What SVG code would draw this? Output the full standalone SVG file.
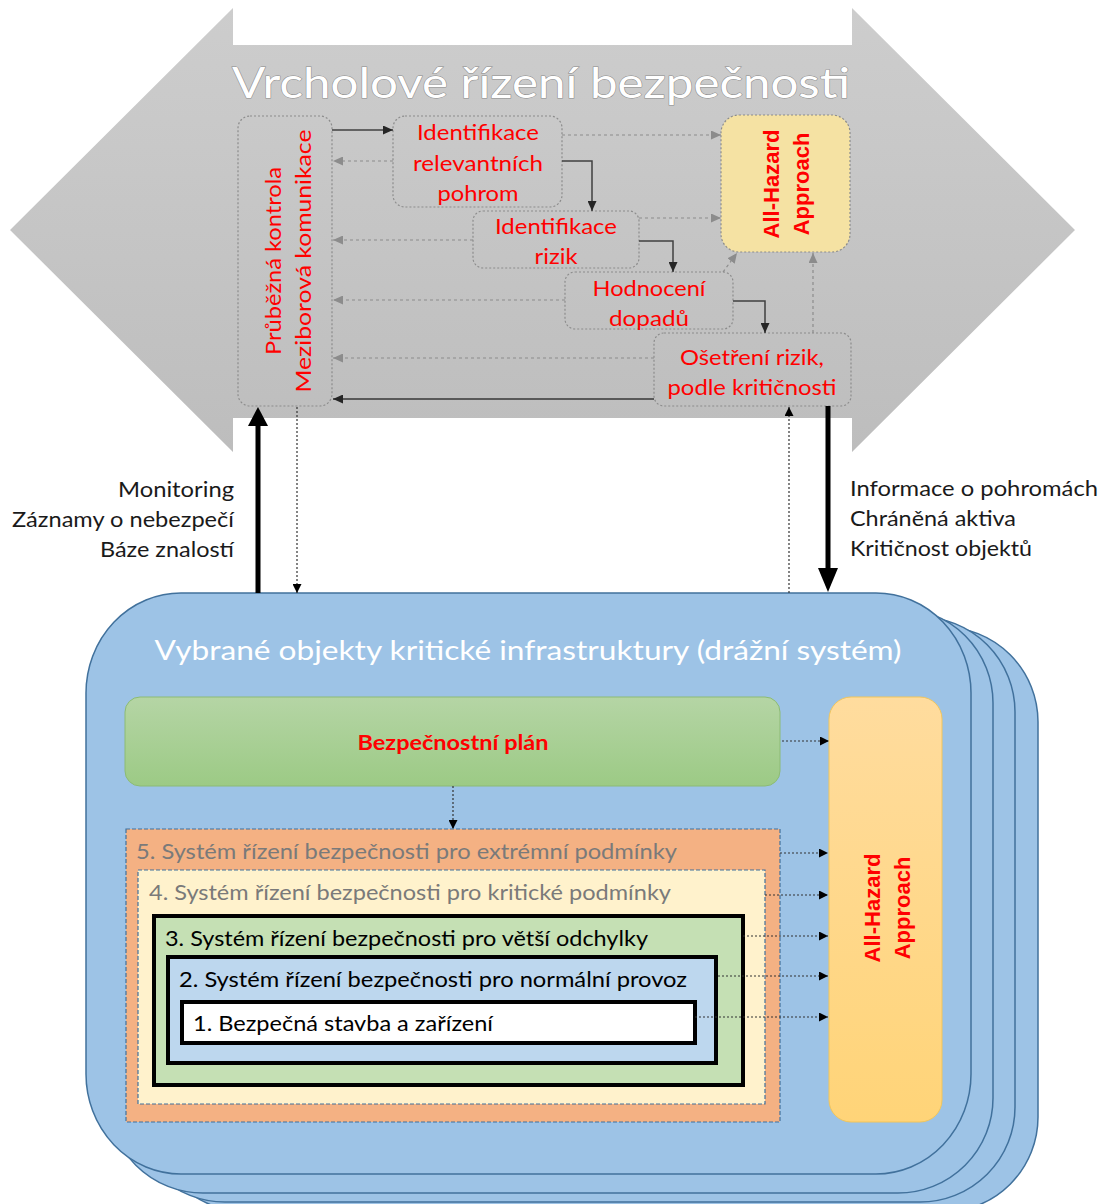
<svg xmlns="http://www.w3.org/2000/svg" width="1108" height="1204" viewBox="0 0 1108 1204">
<defs>
<style>
.cal{font-family:Lato,"Open Sans","Liberation Sans",sans-serif;}
.red{fill:#ff0000;font-size:22px;text-anchor:middle;dominant-baseline:central;}
.lbl{fill:#1a1a1a;font-size:21px;dominant-baseline:central;}
.ah{font-family:"Liberation Sans",Arial,sans-serif;font-weight:bold;font-size:22px;fill:#ff0000;text-anchor:middle;dominant-baseline:central;}
.tnode{fill:none;stroke:#8c8c8c;stroke-width:1.2;stroke-dasharray:2 2;}
.sol{fill:none;stroke:#404040;stroke-width:1.5;}
.gry{fill:none;stroke:#8c8c8c;stroke-width:1.2;stroke-dasharray:3 3;}
.dot{fill:none;stroke:#333;stroke-width:1.2;stroke-dasharray:2 2;}
.layer{fill:#9dc3e6;stroke:#41719c;stroke-width:1.5;}
.lvl{font-size:21px;dominant-baseline:central;}
</style>
<linearGradient id="gGrey" x1="0" y1="0" x2="0" y2="1"><stop offset="0" stop-color="#cdcdcd"/><stop offset="1" stop-color="#bdbdbd"/></linearGradient>
<linearGradient id="gGreen" x1="0" y1="0" x2="0" y2="1"><stop offset="0" stop-color="#b5d5a5"/><stop offset="1" stop-color="#9cca85"/></linearGradient>
<linearGradient id="gYel" x1="0" y1="0" x2="0" y2="1"><stop offset="0" stop-color="#ffdc9e"/><stop offset="1" stop-color="#ffd478"/></linearGradient>
<marker id="mS" viewBox="0 0 10 10" refX="10" refY="5" markerWidth="10" markerHeight="9" markerUnits="userSpaceOnUse" orient="auto" preserveAspectRatio="none"><path d="M0,0 L10,5 L0,10 z" fill="#262626"/></marker>
<marker id="mG" viewBox="0 0 10 10" refX="10" refY="5" markerWidth="10" markerHeight="9" markerUnits="userSpaceOnUse" orient="auto" preserveAspectRatio="none"><path d="M0,0 L10,5 L0,10 z" fill="#8c8c8c"/></marker>
<marker id="mB" viewBox="0 0 10 10" refX="10" refY="5" markerWidth="9" markerHeight="9" markerUnits="userSpaceOnUse" orient="auto" preserveAspectRatio="none"><path d="M0,0 L10,5 L0,10 z" fill="#000"/></marker>
</defs>

<rect width="1108" height="1204" fill="#fff"/>

<g id="top-arrow">
<polygon points="233,8 233,45 852,45 852,8 1075,230 852,452 852,418 233,418 233,452 10,230" fill="url(#gGrey)"/>
<text class="cal" x="541" y="82" font-size="42" text-anchor="middle" dominant-baseline="central" fill="#fff" stroke="#8a8a8a" stroke-width="1" paint-order="stroke" textLength="618" lengthAdjust="spacingAndGlyphs">Vrcholové řízení bezpečnosti</text>
</g>

<g id="node-kontrola">
<rect class="tnode" x="238" y="116" width="94" height="290" rx="12"/>
<text class="cal red" transform="translate(272,261) rotate(-90)" x="0" y="0" textLength="188" lengthAdjust="spacingAndGlyphs">Průběžná kontrola</text>
<text class="cal red" transform="translate(302,261) rotate(-90)" x="0" y="0" textLength="263" lengthAdjust="spacingAndGlyphs">Meziborová komunikace</text>
</g>

<g id="node-pohromy">
<rect class="tnode" x="393" y="116" width="169" height="91" rx="12"/>
<text class="cal red" x="478" y="131" textLength="122" lengthAdjust="spacingAndGlyphs">Identifikace</text>
<text class="cal red" x="478" y="162" textLength="130" lengthAdjust="spacingAndGlyphs">relevantních</text>
<text class="cal red" x="478" y="192" textLength="81" lengthAdjust="spacingAndGlyphs">pohrom</text>
</g>

<g id="node-rizika">
<rect class="tnode" x="473" y="211" width="166" height="57" rx="10"/>
<text class="cal red" x="556" y="225" textLength="122" lengthAdjust="spacingAndGlyphs">Identifikace</text>
<text class="cal red" x="556" y="255" textLength="43" lengthAdjust="spacingAndGlyphs">rizik</text>
</g>

<g id="node-hodnoceni">
<rect class="tnode" x="565" y="272" width="168" height="57" rx="10"/>
<text class="cal red" x="649" y="287" textLength="113" lengthAdjust="spacingAndGlyphs">Hodnocení</text>
<text class="cal red" x="649" y="317" textLength="80" lengthAdjust="spacingAndGlyphs">dopadů</text>
</g>

<g id="node-osetreni">
<rect class="tnode" x="654" y="333" width="197" height="73" rx="10"/>
<text class="cal red" x="752" y="356" textLength="144" lengthAdjust="spacingAndGlyphs">Ošetření rizik,</text>
<text class="cal red" x="752" y="386" textLength="169" lengthAdjust="spacingAndGlyphs">podle kritičnosti</text>
</g>

<g id="node-allhazard-top">
<rect x="721" y="115" width="129" height="137" rx="18" fill="#f5e2a3" stroke="#8c8c8c" stroke-width="1.2" stroke-dasharray="2 2"/>
<text class="ah" transform="translate(771,184) rotate(-90)">All-Hazard</text>
<text class="ah" transform="translate(801,184) rotate(-90)">Approach</text>
</g>

<g id="labels-left">
<text class="cal lbl" x="234" y="488" text-anchor="end" textLength="116" lengthAdjust="spacingAndGlyphs">Monitoring</text>
<text class="cal lbl" x="234" y="518" text-anchor="end" textLength="222" lengthAdjust="spacingAndGlyphs">Záznamy o nebezpečí</text>
<text class="cal lbl" x="234" y="548" text-anchor="end" textLength="134" lengthAdjust="spacingAndGlyphs">Báze znalostí</text>
</g>
<g id="labels-right">
<text class="cal lbl" x="850" y="487" textLength="248" lengthAdjust="spacingAndGlyphs">Informace o pohromách</text>
<text class="cal lbl" x="850" y="517" textLength="166" lengthAdjust="spacingAndGlyphs">Chráněná aktiva</text>
<text class="cal lbl" x="850" y="547" textLength="182" lengthAdjust="spacingAndGlyphs">Kritičnost objektů</text>
</g>

<g id="node-infrastruktura">
<rect class="layer" x="152" y="627" width="886" height="585" rx="95" ry="95"/>
<rect class="layer" x="130" y="617" width="885" height="585" rx="95" ry="95"/>
<rect class="layer" x="108" y="608" width="885" height="585" rx="95" ry="95"/>
<rect class="layer" x="86" y="593" width="885" height="581" rx="95" ry="100"/>
<text class="cal" x="528" y="650" font-size="26" fill="#fff" text-anchor="middle" dominant-baseline="central" textLength="747" lengthAdjust="spacingAndGlyphs">Vybrané objekty kritické infrastruktury (drážní systém)</text>
</g>

<g id="node-plan">
<rect x="125" y="697" width="655" height="89" rx="15" fill="url(#gGreen)" stroke="#8cbb74" stroke-width="1"/>
<text class="cal" x="453" y="741" font-size="21" font-weight="bold" fill="#ff0000" text-anchor="middle" dominant-baseline="central" textLength="191" lengthAdjust="spacingAndGlyphs">Bezpečnostní plán</text>
</g>

<g id="node-allhazard-bottom">
<rect x="829" y="697" width="113" height="425" rx="22" fill="url(#gYel)" stroke="#f2c55a" stroke-width="1"/>
<text class="ah" transform="translate(872,908) rotate(-90)">All-Hazard</text>
<text class="ah" transform="translate(902,908) rotate(-90)">Approach</text>
</g>

<g id="node-level5">
<rect x="126" y="829" width="654" height="293" fill="#f4b183" stroke="#41719c" stroke-width="1.2" stroke-dasharray="4 2"/>
<text class="cal lvl" x="136" y="850" fill="#7a7a7a" textLength="541" lengthAdjust="spacingAndGlyphs">5. Systém řízení bezpečnosti pro extrémní podmínky</text>
</g>
<g id="node-level4">
<rect x="138" y="870" width="627" height="234" fill="#fff2cc" stroke="#41719c" stroke-width="1.2" stroke-dasharray="4 2"/>
<text class="cal lvl" x="149" y="891" fill="#7a7a7a" textLength="522" lengthAdjust="spacingAndGlyphs">4. Systém řízení bezpečnosti pro kritické podmínky</text>
</g>
<g id="node-level3">
<rect x="154" y="916" width="589" height="169" fill="#c5e0b4" stroke="#000" stroke-width="4"/>
<text class="cal lvl" x="165" y="937" fill="#000" textLength="483" lengthAdjust="spacingAndGlyphs">3. Systém řízení bezpečnosti pro větší odchylky</text>
</g>
<g id="node-level2">
<rect x="168" y="957" width="548" height="106" fill="#bdd7ee" stroke="#000" stroke-width="4"/>
<text class="cal lvl" x="179" y="978" fill="#000" textLength="508" lengthAdjust="spacingAndGlyphs">2. Systém řízení bezpečnosti pro normální provoz</text>
</g>
<g id="node-level1">
<rect x="182" y="1002" width="513" height="41" fill="#fff" stroke="#000" stroke-width="4"/>
<text class="cal lvl" x="193" y="1022" fill="#000" textLength="300" lengthAdjust="spacingAndGlyphs">1. Bezpečná stavba a zařízení</text>
</g>

<g id="connectors">
<line class="sol" x1="332" y1="130" x2="393" y2="130" marker-end="url(#mS)"/>
<path class="sol" d="M562,161 H592 V211" marker-end="url(#mS)"/>
<path class="sol" d="M639,241 H673 V272" marker-end="url(#mS)"/>
<path class="sol" d="M733,301 H765 V333" marker-end="url(#mS)"/>
<line x1="654" y1="399" x2="333" y2="399" stroke="#595959" stroke-width="2" marker-end="url(#mS)"/>
<line class="gry" x1="393" y1="161" x2="333" y2="161" marker-end="url(#mG)"/>
<line class="gry" x1="473" y1="240" x2="333" y2="240" marker-end="url(#mG)"/>
<line class="gry" x1="565" y1="300" x2="333" y2="300" marker-end="url(#mG)"/>
<line class="gry" x1="654" y1="358" x2="333" y2="358" marker-end="url(#mG)"/>
<line class="gry" x1="562" y1="135" x2="721" y2="135" marker-end="url(#mG)"/>
<line class="gry" x1="639" y1="218" x2="721" y2="218" marker-end="url(#mG)"/>
<line class="gry" x1="723" y1="272" x2="737" y2="253" marker-end="url(#mG)"/>
<line class="gry" x1="813" y1="333" x2="813" y2="253" marker-end="url(#mG)"/>
<line x1="258" y1="593" x2="258" y2="424" stroke="#000" stroke-width="5"/>
<polygon points="248,426 268,426 258,407" fill="#000"/>
<line x1="828" y1="406" x2="828" y2="570" stroke="#000" stroke-width="5"/>
<polygon points="818,568 838,568 828,592" fill="#000"/>
<line class="dot" x1="297" y1="407" x2="297" y2="593" stroke-width="1" marker-end="url(#mB)"/>
<line class="dot" x1="789" y1="593" x2="789" y2="407" stroke-width="1" marker-end="url(#mB)"/>
<line class="dot" x1="453" y1="786" x2="453" y2="829" stroke-width="1" marker-end="url(#mB)"/>
<line class="dot" x1="782" y1="741" x2="829" y2="741" marker-end="url(#mB)"/>
<line class="dot" x1="780" y1="853" x2="828" y2="853" marker-end="url(#mB)"/>
<line class="dot" x1="765" y1="895" x2="828" y2="895" marker-end="url(#mB)"/>
<line class="dot" x1="743" y1="936" x2="828" y2="936" marker-end="url(#mB)"/>
<line class="dot" x1="718" y1="976" x2="828" y2="976" marker-end="url(#mB)"/>
<line class="dot" x1="695" y1="1017" x2="828" y2="1017" marker-end="url(#mB)"/>
</g>
</svg>
